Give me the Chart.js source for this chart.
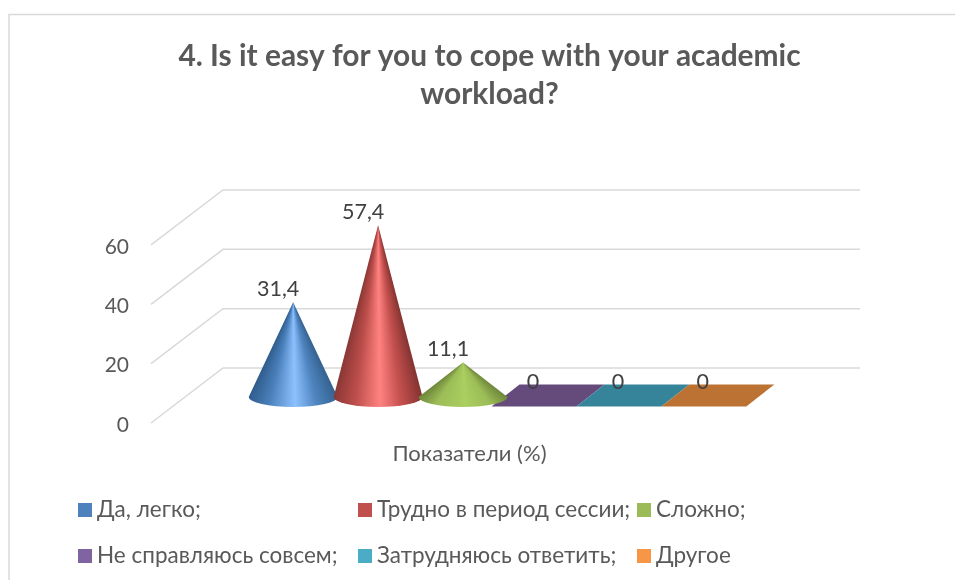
<!DOCTYPE html>
<html><head><meta charset="utf-8">
<style>html,body{margin:0;padding:0;background:#fff;overflow:hidden}#w{width:955px;height:580px;position:relative}</style>
<script src="https://cdn.jsdelivr.net/npm/chart.js@4"></script>
</head><body><div id="w"><canvas id="c" width="955" height="580"></canvas></div>
<script>
const titleLines = ['4. Is it easy for you to cope with your academic', 'workload?'];
const categories = ['Показатели (%)'];
const seriesLabels = ['Да, легко;', 'Трудно в период сессии;', 'Сложно;', 'Не справляюсь совсем;', 'Затрудняюсь ответить;', 'Другое'];
const seriesValues = [31.4, 57.4, 11.1, 0, 0, 0];
const yTicks = [0, 20, 40, 60];
const legendColors = ['#4f81bd', '#c0504d', '#9bbb59', '#8064a2', '#4bacc6', '#f79646'];
const flatColors = ['#4f81bd', '#c0504d', '#9bbb59', '#654a7c', '#36849a', '#bb7233'];
const coneShades = [
  ['#2f5c8c', '#4a80bb', '#8cc1ff', '#4e84bf', '#34628f'],
  ['#8a3735', '#bd4e4b', '#ff8280', '#c4504e', '#833331'],
  ['#6f883b', '#9cbd57', '#abcf60', '#9cbd57', '#6f883b']
];
const legendCols = [78, 358, 637], legendRows = [510, 556];
const legendSlots = [[0,0],[1,0],[2,0],[0,1],[1,1],[2,1]];
const FONT = 'Lato, "Noto Sans", sans-serif';
const DEPTH_X = 72, DEPTH_Y = 55;

const wall = {
  id: 'wall',
  beforeDatasetsDraw(chart) {
    const ctx = chart.ctx, y = chart.scales.y, x = chart.scales.x;
    ctx.save();
    ctx.strokeStyle = '#d9d9d9'; ctx.lineWidth = 1.5;
    ctx.beginPath();
    ctx.moveTo(955, 14.5); ctx.lineTo(9, 14.5); ctx.lineTo(9, 580);
    ctx.stroke();
    yTicks.forEach(t => {
      const p = y.getPixelForValue(t);
      ctx.beginPath();
      ctx.moveTo(x.left, p);
      ctx.lineTo(x.left + DEPTH_X, p - DEPTH_Y);
      ctx.lineTo(x.right + DEPTH_X, p - DEPTH_Y);
      ctx.stroke();
    });
    ctx.restore();
  }
};

function drawCone(ctx, cx, cy, rx, ry, topY, shades) {
  const pos = [1, 0.5, 0.04, -0.5, -1];
  const ang = u => Math.atan2(cy - topY, rx * u);
  const start = ang(1.1);
  const g = ctx.createConicGradient(start, cx, topY);
  pos.forEach((u, i) => {
    g.addColorStop((ang(u) - start) / (2 * Math.PI), shades[shades.length - 1 - i]);
  });
  ctx.fillStyle = g;
  ctx.beginPath();
  ctx.moveTo(cx - rx, cy);
  ctx.lineTo(cx, topY);
  ctx.lineTo(cx + rx, cy);
  ctx.ellipse(cx, cy, rx, ry, 0, 0, Math.PI);
  ctx.closePath();
  ctx.fill();
}

const cones = {
  id: 'cones',
  beforeDatasetDraw() { return false; },
  afterDatasetsDraw(chart) {
    const ctx = chart.ctx;
    const bars = chart.data.datasets.map((d, i) => chart.getDatasetMeta(i).data[0]);
    ctx.save();
    const floorMid = b => b.base - DEPTH_Y / 2;
    bars.forEach((b, i) => {
      if (seriesValues[i] !== 0) return;
      const cx = b.x + DEPTH_X / 2, cy = floorMid(b), hw = b.width / 2, dx = 14, dy = 11;
      ctx.fillStyle = flatColors[i];
      ctx.beginPath();
      ctx.moveTo(cx - hw - dx, cy + dy);
      ctx.lineTo(cx + hw - dx, cy + dy);
      ctx.lineTo(cx + hw + dx, cy - dy);
      ctx.lineTo(cx - hw + dx, cy - dy);
      ctx.closePath();
      ctx.fill();
    });
    bars.forEach((b, i) => {
      if (seriesValues[i] === 0) return;
      drawCone(ctx, b.x + DEPTH_X / 2, floorMid(b) + 1.5, b.width / 2 + 2, 10, b.y - DEPTH_Y / 2, coneShades[i]);
    });
    ctx.fillStyle = '#404040';
    ctx.font = '21.5px ' + FONT;
    ctx.textAlign = 'center'; ctx.textBaseline = 'middle';
    bars.forEach((b, i) => {
      ctx.fillText(String(seriesValues[i]).replace('.', ','), b.x + 21, b.y - 41);
    });
    ctx.restore();
  }
};

const sideLegend = {
  id: 'sideLegend',
  afterDraw(chart) {
    const ctx = chart.ctx;
    ctx.save();
    ctx.font = '22.5px ' + FONT;
    ctx.textAlign = 'left'; ctx.textBaseline = 'middle';
    seriesLabels.forEach((label, i) => {
      const [c, r] = legendSlots[i];
      const x = legendCols[c], y = legendRows[r];
      ctx.fillStyle = legendColors[i];
      ctx.fillRect(x, y - 7, 14, 14);
      ctx.fillStyle = '#595959';
      ctx.fillText(label, x + 19, y);
    });
    ctx.restore();
  }
};

new Chart(document.getElementById('c'), {
  type: 'bar',
  data: {
    labels: categories,
    datasets: seriesLabels.map((label, i) => ({
      label, data: [seriesValues[i]], backgroundColor: flatColors[i],
      categoryPercentage: 0.8, barPercentage: 1
    }))
  },
  plugins: [wall, cones, sideLegend],
  options: {
    responsive: false, animation: false,
    layout: { padding: { left: 24, right: 0, top: 0, bottom: 0 } },
    plugins: {
      legend: { display: false },
      tooltip: { enabled: false },
      title: {
        display: true, text: titleLines, color: '#595959',
        font: { family: FONT, size: 29.9, weight: 'bold', lineHeight: 1.27 },
        padding: { top: 37, bottom: 132 }
      }
    },
    scales: {
      x: {
        grid: { display: false, drawTicks: false }, border: { display: false },
        ticks: { color: '#595959', font: { family: FONT, size: 22 }, padding: 18 },
        afterFit(s) { s.height = 157; }
      },
      y: {
        min: 0, max: 60,
        grid: { display: false, drawTicks: false }, border: { display: false },
        ticks: { stepSize: 20, color: '#595959', font: { family: FONT, size: 21 }, padding: 22, labelOffset: 2 },
        afterFit(s) { s.width = 127; }
      },
      spare: {
        position: 'right', display: true,
        grid: { display: false }, border: { display: false },
        ticks: { display: false },
        afterFit(s) { s.width = 167; }
      }
    }
  }
});
</script></body></html>
